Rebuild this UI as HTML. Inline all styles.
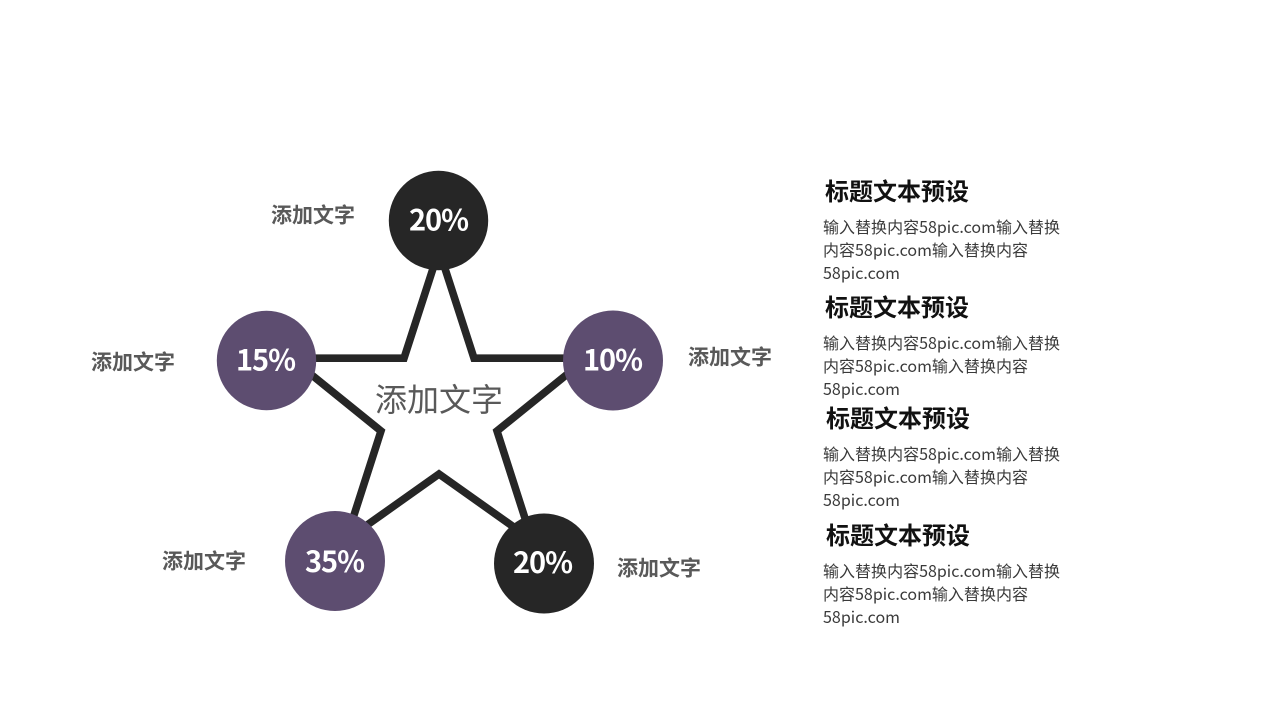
<!DOCTYPE html>
<html lang="zh">
<head>
<meta charset="utf-8">
<title>标题文本预设</title>
<style>
html,body{margin:0;padding:0;background:#fff;width:1280px;height:720px;overflow:hidden}
svg{display:block}
text{font-family:"Liberation Sans","Noto Sans CJK SC",sans-serif}
.cjk,.cjk text{font-family:"Noto Sans CJK SC","Liberation Sans",sans-serif}
.pct{font-size:29px;font-weight:700;fill:#fff;text-anchor:middle}
.lab{font-size:21px;font-weight:700;fill:#595959}
.ttl{font-size:24px;font-weight:700;fill:#111}
.bod{font-size:16px;fill:#3a3a3a}
</style>
</head>
<body>
<svg class="cjk" width="1280" height="720" viewBox="0 0 1280 720" xmlns="http://www.w3.org/2000/svg">
<polygon points="439,250 474,358.2 587,358.2 497,431 532,540 439,474 346,540 381,431 291,358.2 404,358.2" fill="none" stroke="#262626" stroke-width="7.6" stroke-linejoin="miter"/>
<circle cx="438.5" cy="220.5" r="49.7" fill="#262626"/>
<circle cx="266.5" cy="360.5" r="49.7" fill="#5d4d70"/>
<circle cx="613" cy="360.5" r="50" fill="#5d4d70"/>
<circle cx="335" cy="561" r="50" fill="#5d4d70"/>
<circle cx="544" cy="563.5" r="50" fill="#262626"/>
<text class="pct" x="439" y="230.5" textLength="60">20%</text>
<text class="pct" x="266" y="370.5" textLength="60">15%</text>
<text class="pct" x="613" y="370.5" textLength="60">10%</text>
<text class="pct" x="335" y="572" textLength="60">35%</text>
<text class="pct" x="543" y="573" textLength="60">20%</text>
<text x="375" y="411" font-size="32" fill="#595959" font-weight="400" textLength="128">添加文字</text>
<text class="lab" x="271" y="222.5" textLength="84">添加文字</text>
<text class="lab" x="91" y="369.5" textLength="84">添加文字</text>
<text class="lab" x="688" y="364.5" textLength="84">添加文字</text>
<text class="lab" x="162" y="568.5" textLength="84">添加文字</text>
<text class="lab" x="617" y="575.5" textLength="84">添加文字</text>
<text class="ttl" x="825" y="200" textLength="144">标题文本预设</text>
<text class="bod" x="823" y="233" textLength="237">输入替换内容58pic.com输入替换</text>
<text class="bod" x="823" y="256" textLength="205">内容58pic.com输入替换内容</text>
<text class="bod" x="823" y="279" textLength="77">58pic.com</text>
<text class="ttl" x="825" y="316" textLength="144">标题文本预设</text>
<text class="bod" x="823" y="349" textLength="237">输入替换内容58pic.com输入替换</text>
<text class="bod" x="823" y="372" textLength="205">内容58pic.com输入替换内容</text>
<text class="bod" x="823" y="395" textLength="77">58pic.com</text>
<text class="ttl" x="826" y="427" textLength="144">标题文本预设</text>
<text class="bod" x="823" y="460" textLength="237">输入替换内容58pic.com输入替换</text>
<text class="bod" x="823" y="483" textLength="205">内容58pic.com输入替换内容</text>
<text class="bod" x="823" y="506" textLength="77">58pic.com</text>
<text class="ttl" x="826" y="544" textLength="144">标题文本预设</text>
<text class="bod" x="823" y="577" textLength="237">输入替换内容58pic.com输入替换</text>
<text class="bod" x="823" y="600" textLength="205">内容58pic.com输入替换内容</text>
<text class="bod" x="823" y="623" textLength="77">58pic.com</text>
</svg>
</body>
</html>
